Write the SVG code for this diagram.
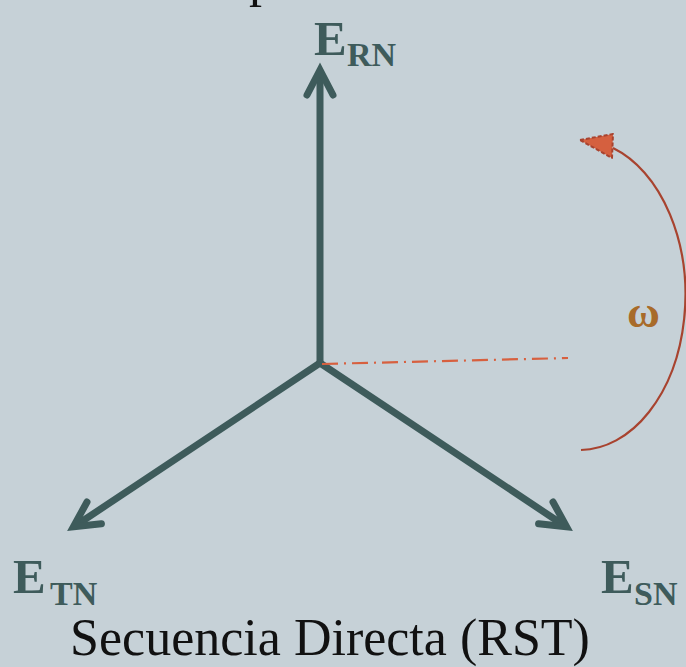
<svg xmlns="http://www.w3.org/2000/svg" width="686" height="667" viewBox="0 0 686 667">
  <style>
    .phasor { fill: none; stroke: #3e5b5b; stroke-width: 7; stroke-linecap: round; }
    .head { fill: none; stroke: #3e5b5b; stroke-width: 7; stroke-linecap: round; stroke-linejoin: miter; stroke-miterlimit: 10; }
    .lbl { font-family: "Liberation Serif", "Times New Roman", serif; font-weight: bold; fill: #3e5b5b; }
    .big { font-size: 49px; }
    .sub { font-size: 34px; }
    .title { font-family: "Liberation Serif", "Times New Roman", serif; font-size: 52px; fill: #111111; }
  </style>
  <rect x="0" y="0" width="686" height="667" fill="#c6d1d7"/>

  <text class="title" x="249" y="-4">p</text>

  <g id="connectors">
    <g id="phasor-RN">
      <line class="phasor" x1="320" y1="363" x2="320" y2="72"/>
      <polyline class="head" points="307,95 320,70 333,95"/>
    </g>
    <g id="phasor-TN">
      <line class="phasor" x1="320" y1="363" x2="75" y2="526"/>
      <polyline class="head" points="87,502 73.4,526.7 101.4,523.7"/>
    </g>
    <g id="phasor-SN">
      <line class="phasor" x1="320" y1="363" x2="565" y2="526"/>
      <polyline class="head" points="553,502 566.6,526.7 538.6,523.7"/>
    </g>
    <g id="reference">
      <line x1="322" y1="364" x2="568" y2="358" stroke="#d7603f" stroke-width="2.2" stroke-dasharray="16 6 2 6"/>
    </g>
    <g id="rotation">
      <path d="M581,450 A106,155 0 0 0 613,148" fill="none" stroke="#a8432f" stroke-width="2.2"/>
      <polygon points="580,140 613,134 612,158" fill="#d5603f" stroke="#a8432f" stroke-width="2" stroke-dasharray="4 2" stroke-linejoin="round"/>
    </g>
  </g>

  <g id="label-ERN">
    <text class="lbl"><tspan class="big" x="314" y="55">E</tspan><tspan class="sub" x="347" y="66">RN</tspan></text>
  </g>
  <g id="label-ETN">
    <text class="lbl"><tspan class="big" x="13" y="593">E</tspan><tspan class="sub" x="50" y="605">TN</tspan></text>
  </g>
  <g id="label-ESN">
    <text class="lbl"><tspan class="big" x="601" y="593">E</tspan><tspan class="sub" x="634" y="605">SN</tspan></text>
  </g>
  <g id="label-omega">
    <text x="627" y="327" font-family="Liberation Serif, 'Times New Roman', serif" font-weight="bold" font-size="45" fill="#a86b2a">ω</text>
  </g>
  <g id="caption">
    <text class="title" x="330" y="655" text-anchor="middle">Secuencia Directa (RST)</text>
  </g>
</svg>
